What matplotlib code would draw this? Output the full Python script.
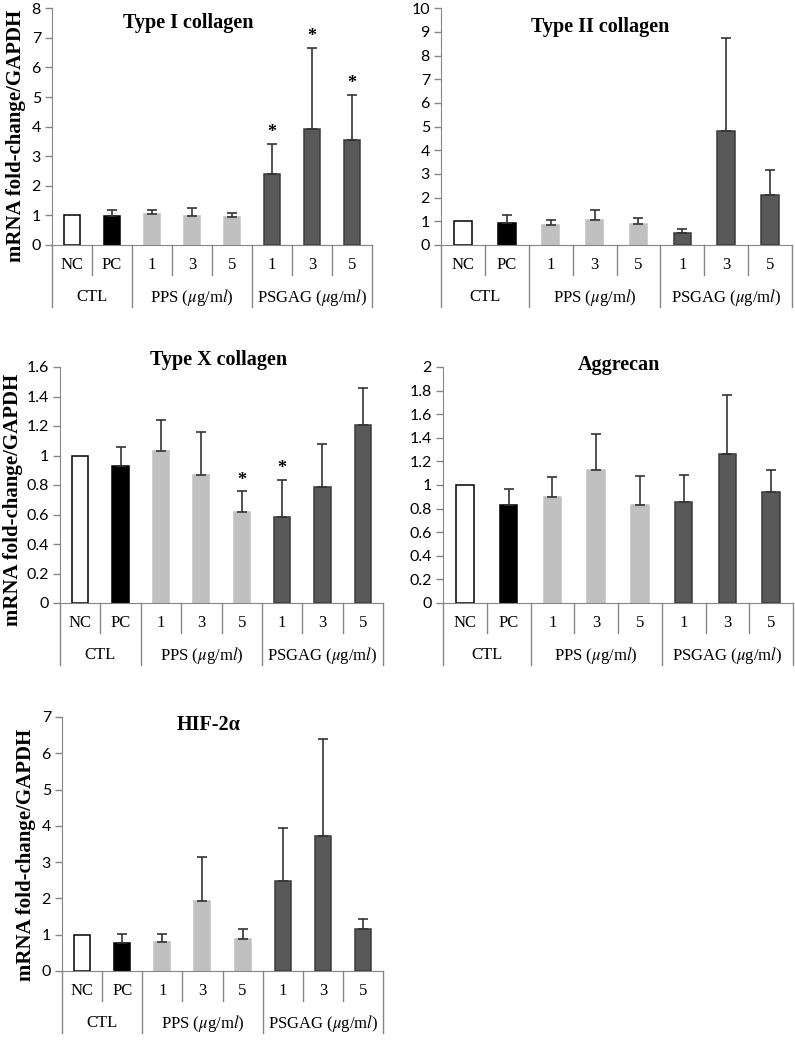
import matplotlib
matplotlib.use("Agg")
import matplotlib.pyplot as plt
import matplotlib.transforms as mtrans
import numpy as np

plt.rcParams['mathtext.fontset'] = 'stix'

# ---------------- data ----------------
categories = ["NC", "PC", "1", "3", "5", "1", "3", "5"]
groups = ["CTL", "PPS ($\\mu$g/m$l$)", "PSGAG ($\\mu$g/m$l$)"]
group_spans = [(0, 1), (2, 4), (5, 7)]
bar_colors = ["#ffffff", "#000000", "#c0c0c0", "#c0c0c0", "#c0c0c0",
              "#595959", "#595959", "#595959"]
edge_colors = ["#000000", "#000000", "#c0c0c0", "#c0c0c0", "#c0c0c0",
               "#3a3a3a", "#3a3a3a", "#3a3a3a"]

col1_means = [1.0, 0.98, 1.04, 0.98, 0.94, 2.39, 3.92, 3.56]
col1_err = [0, 0.20, 0.14, 0.28, 0.13, 1.02, 2.75, 1.51]
col1_stars = [5, 6, 7]

col2_means = [1.0, 0.94, 0.83, 1.06, 0.87, 0.51, 4.83, 2.10]
col2_err = [0, 0.33, 0.23, 0.42, 0.28, 0.17, 3.93, 1.05]
col2_stars = []

col10_means = [1.0, 0.93, 1.03, 0.865, 0.615, 0.58, 0.784, 1.208]
col10_err = [0, 0.13, 0.21, 0.295, 0.142, 0.254, 0.296, 0.252]
col10_stars = [4, 5]

agg_means = [1.0, 0.83, 0.90, 1.124, 0.834, 0.856, 1.262, 0.94]
agg_err = [0, 0.133, 0.17, 0.31, 0.239, 0.231, 0.498, 0.19]
agg_stars = []

hif_means = [1.0, 0.78, 0.80, 1.92, 0.874, 2.47, 3.72, 1.16]
hif_err = [0, 0.23, 0.21, 1.22, 0.286, 1.46, 2.66, 0.27]
hif_stars = []

titles = ["Type I collagen", "Type II collagen", "Type X collagen",
          "Aggrecan", "HIF-2\u03b1"]
ylabel = "mRNA fold-change/GAPDH"
yticks_list = [np.arange(0, 9, 1), np.arange(0, 11, 1),
               np.round(np.arange(0, 1.61, 0.2), 1),
               np.round(np.arange(0, 2.01, 0.2), 1), np.arange(0, 8, 1)]

# ---------------- layout (pixels) ----------------
W, H = 795, 1041
fig = plt.figure(figsize=(W / 100, H / 100), dpi=100)

# (left, right, top, bottom) in pixels
boxes = [(52, 372, 8.3, 245), (441, 792, 8.3, 245), (60, 383, 367, 603),
         (443, 793, 367, 603), (62, 383, 717, 971)]
title_pos = [(0.425, 0.94), (0.453, 0.92), (0.49, 1.03), (0.503, 1.008),
             (0.458, 0.969)]
ylabel_pos = [(16, 136), None, (13, 500), None, (26, 855)]

panels = [(col1_means, col1_err, col1_stars), (col2_means, col2_err, col2_stars),
          (col10_means, col10_err, col10_stars), (agg_means, agg_err, agg_stars),
          (hif_means, hif_err, hif_stars)]

axis_gray = "#868686"
serif = "Liberation Serif"
sans = "Lato"

for i, (means, err, stars) in enumerate(panels):
    l, r, t, b = boxes[i]
    ax_h = b - t
    ax = fig.add_axes([l / W, 1 - b / H, (r - l) / W, ax_h / H])
    x = np.arange(len(categories))
    ax.bar(x, means, width=0.4, color=bar_colors, edgecolor=edge_colors,
           linewidth=1.1, zorder=2)
    for xi, m, e in zip(x, means, err):
        if e > 0:
            ax.errorbar(xi, m, yerr=[[0], [e]], fmt="none", ecolor="#333333",
                        elinewidth=1.2, capsize=3.3, capthick=1.2, zorder=3)
    for s in stars:
        ax.annotate("*", (x[s], means[s] + err[s]), xytext=(0, 2),
                    textcoords="offset points", ha="center", va="bottom",
                    fontsize=13, fontfamily=serif, fontweight="bold")
    yt = yticks_list[i]
    ax.set_ylim(0, yt[-1])
    ax.set_xlim(-0.5, 7.5)
    ax.set_yticks(yt)
    ax.set_yticklabels([f"{v:g}" for v in yt], fontfamily=sans, fontsize=11.5)
    ax.set_xticks([])
    for sp in ["top", "right"]:
        ax.spines[sp].set_visible(False)
    ax.spines["left"].set_color(axis_gray)
    ax.spines["bottom"].set_color(axis_gray)
    ax.tick_params(axis="y", direction="out", length=5, color=axis_gray,
                   width=1, pad=3)
    ax.text(title_pos[i][0], title_pos[i][1], titles[i], transform=ax.transAxes,
            ha="center", va="center", fontsize=14.5, fontfamily=serif,
            fontweight="bold")
    if ylabel_pos[i] is not None:
        fig.text(ylabel_pos[i][0] / W, 1 - ylabel_pos[i][1] / H, ylabel,
                 rotation=90, ha="center", va="center", fontsize=15,
                 fontfamily=serif, fontweight="bold")

    # multi-level category table
    base = mtrans.blended_transform_factory(ax.transData, ax.transAxes)

    def off(px):
        return base + mtrans.ScaledTranslation(0, -px / 100, fig.dpi_scale_trans)

    long_lines = [-0.5, 1.5, 4.5, 7.5]
    short_lines = [0.5, 2.5, 3.5, 5.5, 6.5]
    for xv in long_lines:
        ax.plot([xv, xv], [0, -62 / ax_h], color=axis_gray, lw=1,
                clip_on=False, transform=base)
    for xv in short_lines:
        ax.plot([xv, xv], [0, -30 / ax_h], color=axis_gray, lw=1,
                clip_on=False, transform=base)
    for xi, c in zip(x, categories):
        ax.text(xi, 0, c, transform=off(20), ha="center", va="center",
                fontsize=12, fontfamily=serif)
    for g, (a0, a1) in zip(groups, group_spans):
        ax.text((a0 + a1) / 2, 0, g, transform=off(52), ha="center",
                va="center", fontsize=12, fontfamily=serif)

fig.savefig("out.png", dpi=100)
